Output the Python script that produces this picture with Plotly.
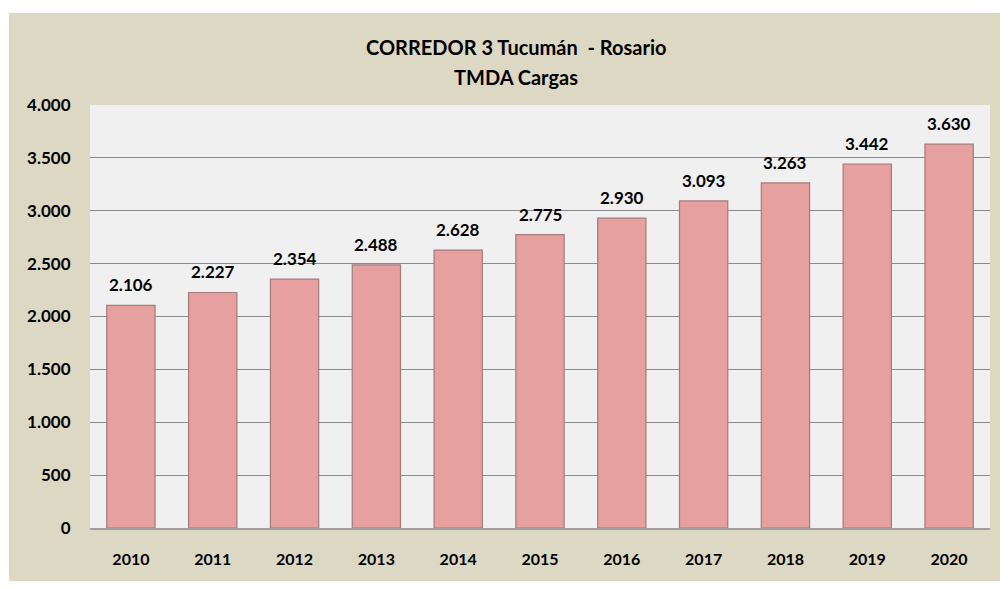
import plotly.graph_objects as go

years = ["2010", "2011", "2012", "2013", "2014", "2015", "2016", "2017", "2018", "2019", "2020"]
tmda = [2106, 2227, 2354, 2488, 2628, 2775, 2930, 3093, 3263, 3442, 3630]
y_ticks = [0, 500, 1000, 1500, 2000, 2500, 3000, 3500, 4000]
title_line1 = "CORREDOR 3 Tucumán  - Rosario"
title_line2 = "TMDA Cargas"

# figure sits 8px inside the page (body margin)
W, H = 992, 573
ML, MR, MT, MB = 82, 10, 97, 53
PW, PH = W - ML - MR, H - MT - MB

FONT = "Lato"


def px_x(v):
    return (v - ML) / PW


def px_y(v):
    return (H - MB - v) / PH


fig = go.Figure()
fig.add_trace(go.Bar(
    x=years, y=tmda,
    marker=dict(color="#E6A09F", line=dict(color="#A27B7B", width=1.2)),
    hoverinfo="x+y",
))

annotations = []
for i, v in enumerate(tmda):
    annotations.append(dict(
        x=i, y=v, xref="x", yref="y", text=f"{v:,}".replace(",", "."),
        showarrow=False, yanchor="bottom", yshift=8,
        font=dict(family=FONT, size=17, color="#000000", weight="bold"),
    ))
annotations.append(dict(
    x=px_x(508), y=px_y(39), xref="paper", yref="paper", text=title_line1,
    showarrow=False, xanchor="center", yanchor="middle",
    font=dict(family=FONT, size=20, color="#000000", weight="bold"),
))
annotations.append(dict(
    x=px_x(508), y=px_y(69), xref="paper", yref="paper", text=title_line2,
    showarrow=False, xanchor="center", yanchor="middle",
    font=dict(family=FONT, size=20, color="#000000", weight="bold"),
))

shapes = [
    dict(type="rect", xref="paper", yref="paper", x0=px_x(-5), x1=px_x(1), y0=px_y(H + 5), y1=px_y(-5),
         fillcolor="white", line=dict(width=0), layer="below"),
    dict(type="rect", xref="paper", yref="paper", x0=px_x(-5), x1=px_x(W + 5), y0=px_y(5), y1=px_y(-5),
         fillcolor="white", line=dict(width=0), layer="below"),
]

fig.update_layout(
    width=W, height=H,
    margin=dict(l=ML, r=MR, t=MT, b=MB),
    paper_bgcolor="#DDD8C4",
    plot_bgcolor="#F0F0F0",
    separators=",.",
    bargap=0.41,
    showlegend=False,
    shapes=shapes,
    annotations=annotations,
    xaxis=dict(
        type="category", range=[-0.5, len(years) - 0.5],
        showgrid=False, showline=True, linecolor="#A0A0A0", linewidth=1.5,
        ticks="outside", ticklen=16, tickcolor="rgba(0,0,0,0)",
        tickfont=dict(family=FONT, size=16, color="#000000", weight="bold"),
    ),
    yaxis=dict(
        range=[0, 4000], tickvals=y_ticks, tickformat=",d",
        showgrid=True, gridcolor="#8A8A8A", gridwidth=1,
        zeroline=False, showline=False,
        ticks="outside", ticklen=15, tickcolor="rgba(0,0,0,0)",
        tickfont=dict(family=FONT, size=17, color="#000000", weight="bold"),
    ),
)

fig.write_html("out.html")
